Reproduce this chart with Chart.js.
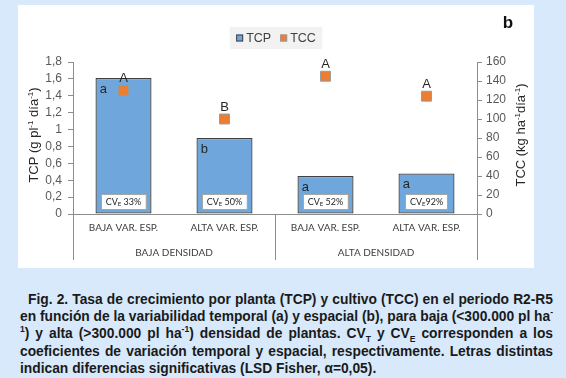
<!DOCTYPE html>
<html>
<head>
<meta charset="utf-8">
<script src="https://cdn.jsdelivr.net/npm/chart.js@4.4.1/dist/chart.umd.min.js"></script>
<style>
  body {
    margin: 0;
    width: 566px;
    height: 378px;
    background: #d7e9fb;
    position: relative;
    overflow: hidden;
    font-family: "Liberation Sans", Arial, sans-serif;
  }
  #panel {
    position: absolute;
    left: 18px;
    top: 5px;
    width: 516px;
    height: 263px;
    background: #fff;
  }
  #caption {
    position: absolute;
    left: 20px;
    top: 291px;
    width: 533px;
    font-weight: bold;
    font-size: 13.8px;
    line-height: 17.2px;
    color: #1a1a1a;
  }
  #caption div {
    text-align: justify;
    text-align-last: justify;
    white-space: nowrap;
    height: 17.2px;
  }
  #caption div.first { padding-left: 8px; }
  #caption div.last { text-align-last: left; }
  sup, sub { font-size: 0.62em; line-height: 0; }
</style>
</head>
<body>
<div id="panel"><canvas id="myChart" width="516" height="263"></canvas></div>
<div id="caption">
  <div class="first">Fig. 2. Tasa de crecimiento por planta (TCP) y cultivo (TCC) en el periodo R2-R5</div>
  <div>en función de la variabilidad temporal (a) y espacial (b), para baja (&lt;300.000 pl ha<sup>-</sup></div>
  <div><sup>1</sup>) y alta (&gt;300.000 pl ha<sup>-1</sup>) densidad de plantas. CV<sub>T</sub> y CV<sub>E</sub> corresponden a los</div>
  <div>coeficientes de variación temporal y espacial, respectivamente. Letras distintas</div>
  <div class="last">indican diferencias significativas (LSD Fisher, α=0,05).</div>
</div>
<script>
const categories = ["BAJA VAR. ESP.", "ALTA VAR. ESP.", "BAJA VAR. ESP.", "ALTA VAR. ESP."];
const groups = ["BAJA DENSIDAD", "ALTA DENSIDAD"];
const tcp = [1.61, 0.9, 0.45, 0.48];
const tcc = [130, 100, 145, 124];
const tcpLetters = ["a", "b", "a", "a"];
const tccLetters = ["A", "B", "A", "A"];
const cvE = [" 33%", " 50%", " 52%", "92%"];
const leftTicks = ["0", "0,2", "0,4", "0,6", "0,8", "1", "1,2", "1,4", "1,6", "1,8"];
const rightTicks = ["0", "20", "40", "60", "80", "100", "120", "140", "160"];

// shrink caption font until every line fits its width
(function fitCaption() {
  const cap = document.getElementById("caption");
  let size = 13.8;
  const fits = () => [...cap.children].every((d) => d.scrollWidth <= d.clientWidth + 0.5);
  while (!fits() && size > 11) {
    size -= 0.1;
    cap.style.fontSize = size + "px";
  }
})();

const ARIAL = '"Liberation Sans", Arial, sans-serif';
const NARROW = 'Lato, "Open Sans", sans-serif';
const TEXT = "#262626";
const AXIS = "#8c8c8c";

// draws text with [string, 1=sup / -1=sub / 0=normal] parts
function richText(ctx, parts, x, y, size, family, align) {
  const small = Math.round(size * 0.62);
  let total = 0;
  parts.forEach(([t, s]) => {
    ctx.font = (s ? small : size) + "px " + family;
    total += ctx.measureText(t).width;
  });
  let cx = align === "center" ? x - total / 2 : x;
  ctx.textAlign = "left";
  ctx.textBaseline = "alphabetic";
  parts.forEach(([t, s]) => {
    ctx.font = (s ? small : size) + "px " + family;
    let dy = s === 1 ? -size * 0.38 : s === -1 ? size * 0.2 : 0;
    ctx.fillText(t, cx, y + dy);
    cx += ctx.measureText(t).width;
  });
  return total;
}

const decor = {
  id: "decor",
  afterDatasetsDraw(chart) {
    const ctx = chart.ctx;
    const area = chart.chartArea;
    const xs = chart.scales.x;
    const bars = chart.getDatasetMeta(0).data;
    const pts = chart.getDatasetMeta(1).data;
    ctx.save();

    // category dividers
    ctx.strokeStyle = AXIS;
    ctx.lineWidth = 1;
    const mid = (xs.getPixelForTick(1) + xs.getPixelForTick(2)) / 2;
    [area.left, mid, area.right].forEach((px) => {
      ctx.beginPath();
      ctx.moveTo(Math.round(px) + 0.5, area.bottom);
      ctx.lineTo(Math.round(px) + 0.5, area.bottom + 46);
      ctx.stroke();
    });

    // group labels
    ctx.fillStyle = "#404040";
    ctx.font = "10px " + NARROW;
    ctx.textAlign = "center";
    ctx.textBaseline = "middle";
    groups.forEach((g, i) => {
      const cx = (xs.getPixelForTick(i * 2) + xs.getPixelForTick(i * 2 + 1)) / 2;
      ctx.fillText(g, cx, area.bottom + 39);
    });

    // CV boxes
    bars.forEach((b, i) => {
      const parts = [["CV", 0], ["E", -1], [cvE[i], 0]];
      let w = 0;
      parts.forEach(([t, s]) => {
        ctx.font = (s ? 6 : 9) + "px " + NARROW;
        w += ctx.measureText(t).width;
      });
      const bw = w + 9, bh = 15;
      const cy = b.base - 12;
      ctx.fillStyle = "#fff";
      ctx.fillRect(b.x - bw / 2, cy - bh / 2, bw, bh);
      ctx.strokeStyle = "#a6a6a6";
      ctx.strokeRect(Math.round(b.x - bw / 2) + 0.5, Math.round(cy - bh / 2) + 0.5, Math.round(bw), bh);
      ctx.fillStyle = TEXT;
      richText(ctx, parts, b.x, cy + 3, 9, NARROW, "center");
    });

    // significance letters
    ctx.fillStyle = TEXT;
    ctx.font = "13px " + ARIAL;
    ctx.textAlign = "center";
    ctx.textBaseline = "middle";
    bars.forEach((b, i) => {
      ctx.fillText(tcpLetters[i], b.x - b.width / 2 + 8, b.y + 11);
    });
    pts.forEach((p, i) => {
      ctx.fillText(tccLetters[i], p.x, p.y - 12);
    });

    // axis titles
    const cy = (area.top + area.bottom) / 2 - 3;
    ctx.save();
    ctx.translate(15, cy);
    ctx.rotate(-Math.PI / 2);
    richText(ctx, [["TCP (g pl", 0], ["-1", 1], [" día", 0], ["-1", 1], [")", 0]], 0, 4.5, 13, ARIAL, "center");
    ctx.restore();
    ctx.save();
    ctx.translate(chart.width - 14, cy);
    ctx.rotate(-Math.PI / 2);
    richText(ctx, [["TCC (kg ha", 0], ["-1", 1], ["día", 0], ["-1", 1], [")", 0]], 0, 4.5, 13, ARIAL, "center");
    ctx.restore();

    // legend
    const ds = chart.data.datasets;
    ctx.font = "12.5px " + ARIAL;
    const items = ds.map((d) => ({ label: d.label, w: ctx.measureText(d.label).width, fill: d.backgroundColor, stroke: d.type === "bar" ? "#404040" : "#9a9a9a" }));
    const inner = items.reduce((s, it) => s + 7 + 3 + it.w, 0) + 9 * (items.length - 1);
    const lw = inner + 13, lh = 22;
    const lx = chart.width / 2 - lw / 2, ly = 22;
    ctx.fillStyle = "#f2f2f2";
    ctx.fillRect(lx, ly, lw, lh);
    let cx = lx + 6.5;
    items.forEach((it) => {
      ctx.fillStyle = it.fill;
      ctx.fillRect(cx, ly + lh / 2 - 3.5, 7, 7);
      ctx.strokeStyle = it.stroke;
      ctx.strokeRect(cx + 0.5, ly + lh / 2 - 3, 6, 6);
      cx += 10;
      ctx.fillStyle = "#404040";
      ctx.textAlign = "left";
      ctx.textBaseline = "middle";
      ctx.fillText(it.label, cx, ly + lh / 2 + 0.5);
      cx += it.w + 9;
    });

    // panel letter
    ctx.fillStyle = "#111";
    ctx.font = "bold 17px " + ARIAL;
    ctx.textAlign = "center";
    ctx.textBaseline = "middle";
    ctx.fillText("b", 490, 18);

    ctx.restore();
  },
};

const config = {
  data: {
    labels: categories,
    datasets: [
      {
        type: "bar",
        label: "TCP",
        data: tcp,
        yAxisID: "y",
        backgroundColor: "#6fa7dc",
        borderColor: "#404040",
        borderWidth: 1.3,
        borderSkipped: false,
        barPercentage: 0.555,
        categoryPercentage: 1,
        order: 2,
      },
      {
        type: "line",
        label: "TCC",
        data: tcc,
        yAxisID: "y2",
        showLine: false,
        pointStyle: "rect",
        pointRadius: 7,
        pointHoverRadius: 7,
        backgroundColor: "#ed7d31",
        borderColor: "#9a9a9a",
        pointBorderWidth: 1,
        order: 1,
      },
    ],
  },
  options: {
    responsive: false,
    animation: false,
    events: [],
    layout: { padding: { top: 57, left: 0, right: 0, bottom: 0 } },
    plugins: {
      legend: { display: false },
      tooltip: { enabled: false },
    },
    scales: {
      x: {
        offset: true,
        grid: { display: false },
        border: { color: AXIS, width: 1 },
        ticks: {
          font: { family: NARROW, size: 10 },
          color: "#404040",
          padding: 0,
          maxRotation: 0,
          autoSkip: false,
        },
        afterFit: (s) => {
          s.height = 54;
        },
      },
      y: {
        position: "left",
        min: 0,
        max: 1.8,
        grid: { drawOnChartArea: false, tickLength: 5, color: AXIS },
        border: { color: AXIS },
        ticks: {
          stepSize: 0.2,
          autoSkip: false,
          padding: 6,
          color: "#595959",
          font: { family: ARIAL, size: 12 },
          callback: (v, i) => leftTicks[i],
        },
        afterFit: (s) => {
          s.width = 55;
        },
      },
      y2: {
        position: "right",
        min: 0,
        max: 160,
        grid: { drawOnChartArea: false, tickLength: 5, color: AXIS },
        border: { color: AXIS },
        ticks: {
          stepSize: 20,
          autoSkip: false,
          padding: 4,
          color: "#595959",
          font: { family: ARIAL, size: 12 },
          callback: (v, i) => rightTicks[i],
        },
        afterFit: (s) => {
          s.width = 57;
        },
      },
    },
  },
  plugins: [decor],
};

const myChart = new Chart(document.getElementById("myChart"), config);
</script>
</body>
</html>
